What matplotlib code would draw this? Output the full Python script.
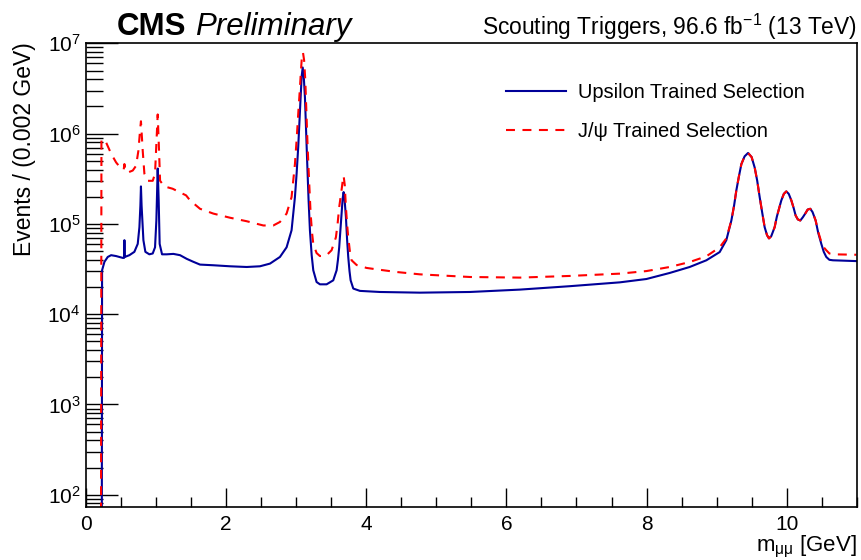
import numpy as np
import matplotlib
matplotlib.use("Agg")
import matplotlib.pyplot as plt
from matplotlib.ticker import LogLocator, MultipleLocator

plt.rcParams['font.family'] = ['Liberation Sans', 'DejaVu Sans']
plt.rcParams['mathtext.fontset'] = 'custom'
plt.rcParams['mathtext.rm'] = 'Liberation Sans'
plt.rcParams['mathtext.it'] = 'Liberation Sans:italic'

# mass points [GeV] and events per 0.002 GeV
upsilon_mass = [0.2235, 0.228, 0.262, 0.309, 0.357, 0.428, 0.523, 0.542, 0.547, 0.552,
                0.618, 0.689, 0.737, 0.761, 0.775, 0.783, 0.792, 0.818, 0.846, 0.903,
                0.951, 0.984, 1.003, 1.022, 1.036, 1.05, 1.084, 1.151, 1.246, 1.341,
                1.436, 1.531, 1.626, 1.816, 2.054, 2.292, 2.482, 2.625, 2.767, 2.862,
                2.933, 2.981, 3.005, 3.028, 3.062, 3.077, 3.092, 3.107, 3.124, 3.14,
                3.157, 3.175, 3.195, 3.22, 3.243, 3.290, 3.338, 3.433, 3.528, 3.576,
                3.595, 3.613, 3.63, 3.647, 3.662, 3.676, 3.69, 3.709, 3.725, 3.742,
                3.76, 3.776, 3.814, 3.909, 4.194, 4.765, 5.478, 6.191, 6.904, 7.618,
                7.998, 8.331, 8.616, 8.854, 9.044, 9.139, 9.211, 9.25, 9.282, 9.32,
                9.354, 9.40, 9.449, 9.50, 9.544, 9.58, 9.615, 9.65, 9.686, 9.72,
                9.748, 9.78, 9.829, 9.86, 9.924, 9.96, 9.995, 10.03, 10.067, 10.10,
                10.128, 10.16, 10.195, 10.23, 10.271, 10.30, 10.338, 10.37, 10.414, 10.45,
                10.495, 10.53, 10.566, 10.61, 10.661, 10.995]
upsilon_events = [10, 3.06e4, 3.8e4, 4.3e4, 4.5e4, 4.4e4, 4.2e4, 4.2e4, 6.6e4, 4.3e4,
                  4.5e4, 4.9e4, 6.0e4, 9.2e4, 1.6e5, 2.6e5, 1.6e5, 6.6e4, 4.9e4, 4.6e4,
                  4.7e4, 5.5e4, 1.09e5, 4.1e5, 1.82e5, 6.0e4, 4.6e4, 4.6e4, 4.65e4, 4.5e4,
                  4.1e4, 3.8e4, 3.54e4, 3.48e4, 3.39e4, 3.33e4, 3.39e4, 3.63e4, 4.3e4, 5.5e4,
                  8.5e4, 1.98e5, 3.6e5, 7.1e5, 2.5e6, 4.3e6, 5.4e6, 4.3e6, 2.5e6, 1.1e6,
                  4.6e5, 1.9e5, 8.5e4, 4.5e4, 3.06e4, 2.27e4, 2.14e4, 2.14e4, 2.37e4, 3.06e4,
                  4.0e4, 5.5e4, 8.5e4, 1.3e5, 1.9e5, 2.25e5, 1.85e5, 1.19e5, 6.8e4, 4.3e4,
                  3.0e4, 2.37e4, 1.92e4, 1.81e4, 1.76e4, 1.73e4, 1.76e4, 1.87e4, 2.04e4, 2.25e4,
                  2.45e4, 2.86e4, 3.33e4, 3.95e4, 4.87e4, 6.6e4, 1.09e5, 1.6e5, 2.35e5, 3.4e5,
                  4.6e5, 5.6e5, 6.1e5, 5.5e5, 4.2e5, 3.0e5, 1.98e5, 1.35e5, 9.2e4, 7.5e4,
                  6.9e4, 7.3e4, 9.2e4, 1.2e5, 1.82e5, 2.15e5, 2.29e5, 2.15e5, 1.82e5, 1.5e5,
                  1.24e5, 1.12e5, 1.09e5, 1.18e5, 1.32e5, 1.44e5, 1.47e5, 1.35e5, 1.09e5, 8.0e4,
                  6.0e4, 4.9e4, 4.3e4, 4.0e4, 3.95e4, 3.87e4]

jpsi_mass = [0.212, 0.219, 0.247, 0.285, 0.357, 0.428, 0.499, 0.537, 0.547, 0.561,
             0.594, 0.666, 0.713, 0.747, 0.770, 0.783, 0.808, 0.832, 0.880, 0.951,
             0.984, 1.003, 1.022, 1.041, 1.056, 1.117, 1.236, 1.331, 1.427, 1.484,
             1.626, 1.816, 2.054, 2.292, 2.53, 2.672, 2.767, 2.862, 2.933, 2.981,
             3.005, 3.028, 3.05, 3.067, 3.08, 3.096, 3.112, 3.129, 3.145, 3.162,
             3.185, 3.205, 3.225, 3.243, 3.290, 3.338, 3.433, 3.504, 3.566, 3.59,
             3.613, 3.652, 3.665, 3.676, 3.692, 3.709, 3.725, 3.742, 3.765, 3.790,
             3.862, 4.004, 4.194, 4.432, 4.765, 5.478, 6.191, 6.904, 7.618, 7.998,
             8.331, 8.616, 8.854, 9.044, 9.139, 9.211, 9.25, 9.282, 9.32, 9.354,
             9.40, 9.449, 9.50, 9.544, 9.58, 9.615, 9.65, 9.686, 9.72, 9.748,
             9.78, 9.829, 9.86, 9.924, 9.96, 9.995, 10.03, 10.067, 10.10, 10.128,
             10.16, 10.195, 10.23, 10.271, 10.30, 10.338, 10.37, 10.414, 10.45, 10.495,
             10.53, 10.566, 10.61, 10.661, 10.995]
jpsi_events = [10, 8.5e5, 8.7e5, 8.0e5, 6.0e5, 4.8e5, 4.1e5, 4.0e5, 4.6e5, 3.9e5,
               3.7e5, 3.9e5, 4.4e5, 6.5e5, 1.08e6, 1.37e6, 6.5e5, 3.6e5, 3.0e5, 3.0e5,
               3.6e5, 7.7e5, 1.63e6, 6.5e5, 3.0e5, 2.6e5, 2.45e5, 2.25e5, 2.07e5, 1.82e5,
               1.47e5, 1.30e5, 1.17e5, 1.07e5, 9.6e4, 9.6e4, 1.05e5, 1.3e5, 1.98e5, 4.6e5,
               8.5e5, 1.65e6, 3.0e6, 5.0e6, 7.0e6, 7.9e6, 6.5e6, 3.9e6, 1.7e6, 7.1e5,
               2.8e5, 1.3e5, 8.0e4, 6.0e4, 4.75e4, 4.4e4, 4.5e4, 5.1e4, 7.1e4, 1.0e5,
               1.53e5, 2.55e5, 3.1e5, 3.4e5, 2.7e5, 1.53e5, 1.0e5, 7.1e4, 5.0e4, 3.95e4,
               3.5e4, 3.25e4, 3.1e4, 2.93e4, 2.76e4, 2.58e4, 2.54e4, 2.65e4, 2.81e4, 3.0e4,
               3.33e4, 3.78e4, 4.37e4, 5.5e4, 6.9e4, 1.09e5, 1.6e5, 2.35e5, 3.4e5, 4.6e5,
               5.6e5, 6.1e5, 5.5e5, 4.2e5, 3.0e5, 1.98e5, 1.35e5, 9.2e4, 7.5e4, 6.9e4,
               7.3e4, 9.2e4, 1.2e5, 1.82e5, 2.15e5, 2.29e5, 2.15e5, 1.82e5, 1.5e5, 1.24e5,
               1.12e5, 1.09e5, 1.18e5, 1.32e5, 1.44e5, 1.47e5, 1.35e5, 1.09e5, 8.2e4, 6.3e4,
               5.5e4, 5.1e4, 4.7e4, 4.6e4, 4.55e4]

fig = plt.figure(figsize=(8.61, 5.60), dpi=100)
ax = fig.add_axes([0.1, 0.0946, 0.895, 0.8294])

ax.plot(upsilon_mass, upsilon_events, color='#000099', lw=1.5,
        label='Upsilon Trained Selection')
ax.plot(jpsi_mass, jpsi_events, color='#ff0000', lw=1.5, dashes=(4.3, 3.6),
        label='J/\u03c8 Trained Selection')

ax.set_yscale('log')
ax.set_xlim(0, 11)
ax.set_ylim(73, 1.02e7)

ax.xaxis.set_major_locator(MultipleLocator(2))
ax.xaxis.set_minor_locator(MultipleLocator(0.5))
ax.yaxis.set_major_locator(LogLocator(base=10, numticks=10))
ax.yaxis.set_minor_locator(LogLocator(base=10, subs=np.arange(2, 10), numticks=10))
ax.yaxis.set_major_formatter(plt.FuncFormatter(lambda v, p: r'$10^{%d}$' % round(np.log10(v))))

ax.tick_params(axis='both', which='both', direction='in', top=False, right=False,
               labelsize=15, width=1)
ax.tick_params(axis='x', which='major', length=14, pad=6)
ax.tick_params(axis='x', which='minor', length=7)
ax.tick_params(axis='y', which='major', length=23, pad=4)
ax.tick_params(axis='y', which='minor', length=12)
for s in ax.spines.values():
    s.set_linewidth(1.2)

ax.set_xlabel('m$_{\\mathrm{\u03bc\u03bc}}$ [GeV]', fontsize=16, loc='right', labelpad=0)
ax.set_ylabel('Events / (0.002 GeV)', fontsize=16.5, loc='top', labelpad=8)

# CMS label and lumi header, placed on the text baseline
ax.text(0.04, 1.016, 'CMS', transform=ax.transAxes, fontsize=22.5, fontweight='bold',
        ha='left', va='baseline')
ax.text(0.1415, 1.016, 'Preliminary', transform=ax.transAxes, fontsize=22.5, style='italic',
        ha='left', va='baseline')
ax.text(1.0, 1.016, 'Scouting Triggers, 96.6 fb$^{\\mathrm{-1}}$ (13 TeV)', transform=ax.transAxes,
        fontsize=16.4, ha='right', va='baseline')

ax.legend(loc='upper left', bbox_to_anchor=(0.535, 0.93), frameon=False, fontsize=14.4,
          handlelength=3.0, handletextpad=0.6, labelspacing=1.0, borderaxespad=0)

fig.savefig('out.png', dpi=100)
